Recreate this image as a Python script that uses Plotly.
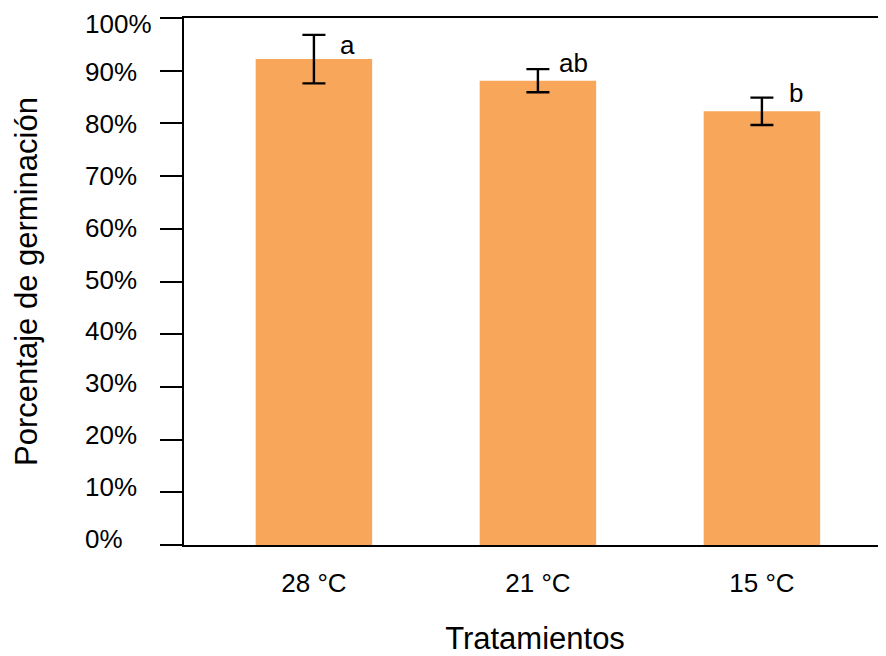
import plotly.graph_objects as go

categories = ["28 °C", "21 °C", "15 °C"]
germination_pct = [92.2, 88.1, 82.3]
error_pct = [4.6, 2.2, 2.6]
letters = ["a", "ab", "b"]
y_ticks = list(range(0, 101, 10))
y_tick_labels = [f"{v}%" for v in y_ticks]

# per-label pixel offsets (style only)
label_xshift = [24, 19, 25]
label_yshift = [-10, 6, 5]

FONT = "Liberation Sans, Arial, sans-serif"
BAR_COLOR = "#F8A65A"

fig = go.Figure()
fig.add_trace(go.Bar(
    x=categories,
    y=germination_pct,
    width=0.52,
    marker=dict(color=BAR_COLOR, line=dict(width=0)),
    error_y=dict(type="data", array=error_pct, visible=True,
                 color="black", thickness=2.4, width=11.5),
    showlegend=False,
))

for i, (cat, val, err, lab) in enumerate(zip(categories, germination_pct, error_pct, letters)):
    fig.add_annotation(
        x=cat, y=val + err, text=lab, showarrow=False,
        xanchor="left", yanchor="middle",
        xshift=label_xshift[i], yshift=label_yshift[i],
        font=dict(family=FONT, size=26, color="black"),
    )

# left-aligned y tick labels (as in the reference); labels sit slightly
# closer together than the ticks, hence a small progressive pixel nudge
n = len(y_ticks)
for i, (v, t) in enumerate(zip(y_ticks, y_tick_labels)):
    nudge = 6.5 - 9.0 * i / (n - 1)
    if i == n - 1:
        nudge = -5.5  # keep the top label inside the page
    fig.add_annotation(
        xref="paper", yref="y", x=0, y=v, text=t, showarrow=False,
        xanchor="left", yanchor="middle", xshift=-101, yshift=nudge,
        font=dict(family=FONT, size=26, color="black"),
    )

# page body has an 8px margin, so the figure is sized/offset to compensate
fig.update_layout(
    width=878, height=648,
    margin=dict(l=176, r=0, t=10, b=111, autoexpand=False),
    paper_bgcolor="white", plot_bgcolor="white",
    font=dict(family=FONT, color="black"),
    xaxis=dict(
        range=[-0.58, 2.554],
        showline=True, linecolor="black", linewidth=2, mirror=True,
        ticks="", showgrid=False, zeroline=False,
        tickfont=dict(size=26, color="black"),
        ticklabelstandoff=14,
        title=dict(text="Tratamientos", font=dict(size=31, color="black"), standoff=35),
    ),
    yaxis=dict(
        range=[0, 100],
        tickvals=y_ticks,
        showticklabels=False,
        showline=True, linecolor="black", linewidth=2,
        ticks="outside", ticklen=22, tickwidth=2, tickcolor="black",
        showgrid=False, zeroline=False,
        title=dict(text="Porcentaje de germinación", font=dict(size=31, color="black"), standoff=113),
    ),
)

fig.write_html("out.html")
